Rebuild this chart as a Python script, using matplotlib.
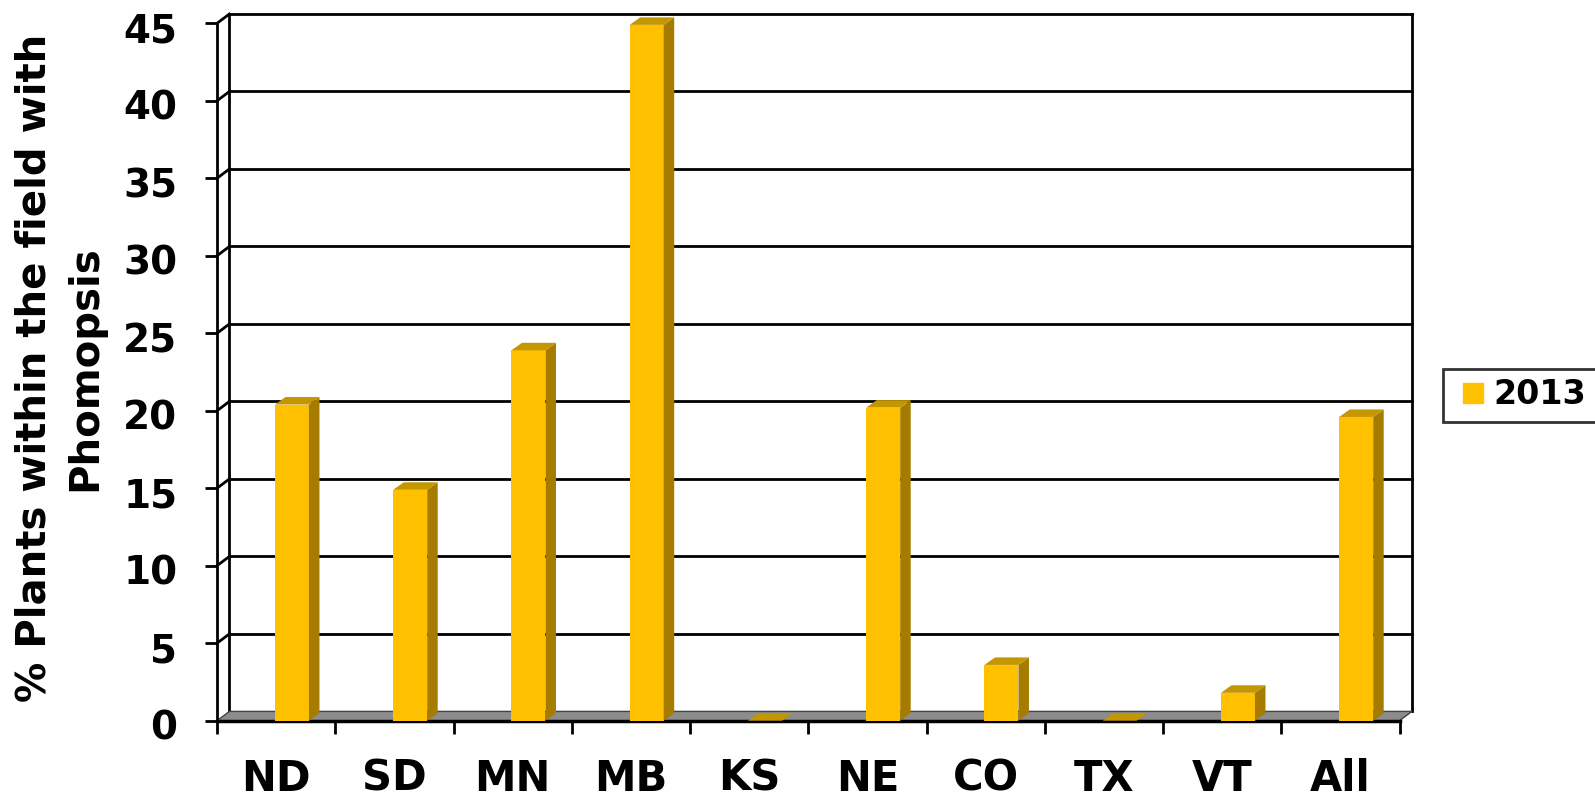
import numpy as np
import matplotlib
matplotlib.use("Agg")
import matplotlib.pyplot as plt
from matplotlib.patches import Polygon
from matplotlib.lines import Line2D
from matplotlib.transforms import ScaledTranslation

# data
states = ["ND", "SD", "MN", "MB", "KS", "NE", "CO", "TX", "VT", "All"]
pct_2013 = [20.4, 14.9, 23.9, 44.9, 0.0, 20.2, 3.6, 0.0, 1.8, 19.6]
yticks = [0, 5, 10, 15, 20, 25, 30, 35, 40, 45]
series_name = "2013"

# 3d look, in data units
WALL_DX, WALL_DY = 0.105, 0.6
BAR_DX, BAR_DY = 0.089, 0.484
BAR_OFF, BAR_W = 0.49, 0.2875

FRONT = "#FFC000"
SIDE = "#A67C00"
TOP = "#C49600"
FLOOR = "#8C8C8C"
LW = 2.0

plt.rcParams["font.family"] = "DejaVu Sans"
plt.rcParams["font.weight"] = "bold"

fig = plt.figure(figsize=(15.95, 8.02), dpi=100)
ax = fig.add_axes([217 / 1595, (802 - 720.7) / 802, 1182.5 / 1595, 697.4 / 802])
ax.set_xlim(0, len(states))
ax.set_ylim(0, yticks[-1])
ax.patch.set_visible(False)
for s in ["top", "right", "bottom"]:
    ax.spines[s].set_visible(False)
ax.spines["left"].set_linewidth(LW)

n = len(states)
ymax = yticks[-1]

# back wall + left wall lines
kw = dict(color="black", lw=LW, clip_on=False, solid_capstyle="projecting")
ax.plot([WALL_DX, WALL_DX], [WALL_DY, ymax + WALL_DY], **kw)
ax.plot([n + WALL_DX, n + WALL_DX], [WALL_DY, ymax + WALL_DY], **kw)
for v in yticks[1:]:
    ax.plot([WALL_DX, n + WALL_DX], [v + WALL_DY, v + WALL_DY], **kw)
    ax.plot([0, WALL_DX], [v, v + WALL_DY], **kw)

# floor
floor = Polygon([(0, 0), (n, 0), (n + WALL_DX, WALL_DY), (WALL_DX, WALL_DY)],
                closed=True, facecolor=FLOOR, edgecolor="#444444", lw=1.0,
                clip_on=False, zorder=2)
ax.add_patch(floor)
ax.plot([0, n], [0, 0], color="black", lw=LW + 0.5, clip_on=False, zorder=3)

# bars
for i, v in enumerate(pct_2013):
    x0 = i + BAR_OFF
    x1 = x0 + BAR_W
    if v > 0:
        ax.add_patch(Polygon([(x0, 0), (x1, 0), (x1, v), (x0, v)],
                             facecolor=FRONT, edgecolor="none", zorder=4, clip_on=False))
        ax.add_patch(Polygon([(x1, 0), (x1 + BAR_DX, BAR_DY), (x1 + BAR_DX, v + BAR_DY), (x1, v)],
                             facecolor=SIDE, edgecolor="none", zorder=4, clip_on=False))
    ax.add_patch(Polygon([(x0, v), (x1, v), (x1 + BAR_DX, v + BAR_DY), (x0 + BAR_DX, v + BAR_DY)],
                         facecolor=TOP, edgecolor="none", zorder=4, clip_on=False))

# y axis
ax.set_yticks(yticks)
ax.set_yticklabels([str(t) for t in yticks], fontsize=28, fontweight="bold")
ax.tick_params(axis="y", length=8.6, width=LW, pad=20, direction="out")
shift = ScaledTranslation(0, -4 / 100, fig.dpi_scale_trans)
for lab in ax.get_yticklabels():
    lab.set_transform(lab.get_transform() + shift)

# x axis: ticks on boundaries, labels in centres
ax.set_xticks(np.arange(n + 1))
ax.set_xticklabels([])
ax.set_xticks(np.arange(n) + 0.5, minor=True)
ax.set_xticklabels(states, minor=True, fontsize=30, fontweight="bold")
ax.tick_params(axis="x", which="major", length=9.4, width=LW, direction="out")
ax.tick_params(axis="x", which="minor", length=0, pad=26.5)

fig.text(60 / 1595, 1 - 368 / 802, "% Plants within the field with\nPhomopsis",
         rotation=90, ha="center", va="center", fontsize=29, fontweight="bold",
         linespacing=1.35, multialignment="center")

handle = Line2D([], [], marker="s", linestyle="none", markersize=15,
                markerfacecolor=FRONT, markeredgecolor=FRONT)
leg = fig.legend([handle], [series_name], loc="center left",
                 bbox_to_anchor=(1443 / 1595, 1 - 395 / 802),
                 frameon=True, fancybox=False, borderaxespad=0,
                 handlelength=1.2, handletextpad=0.0, borderpad=0.3,
                 prop={"weight": "bold", "size": 24})
leg.get_frame().set_edgecolor("black")
leg.get_frame().set_linewidth(LW)

fig.savefig("out.png", dpi=100)
